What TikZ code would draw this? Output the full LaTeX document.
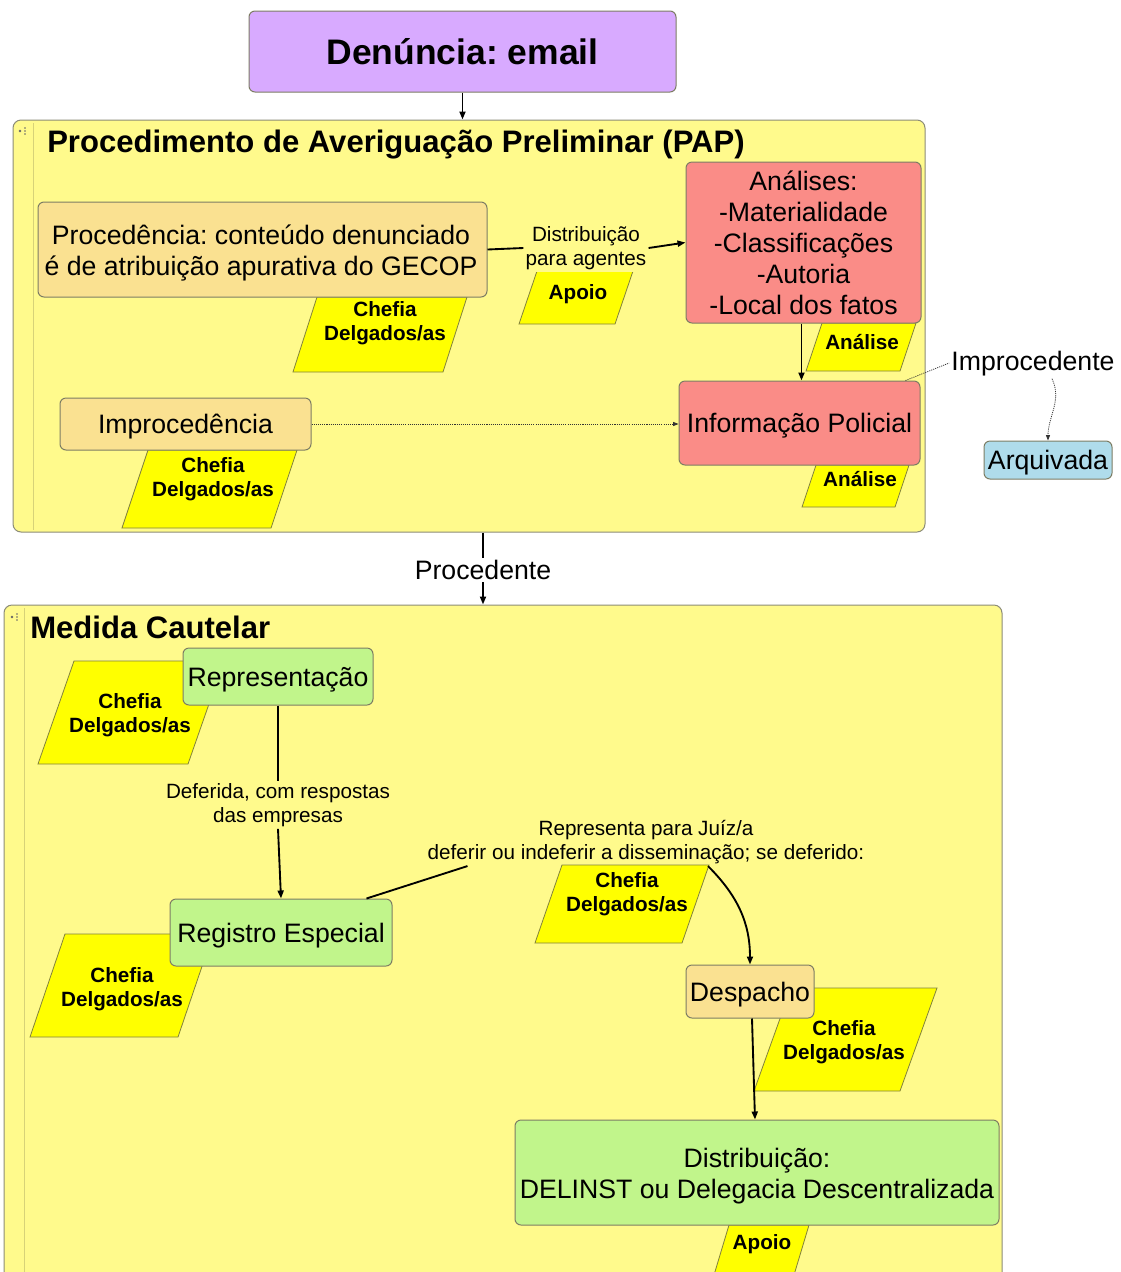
\documentclass[tikz,border=0pt]{standalone}
\usepackage{fontspec}
\setmainfont{Liberation Sans}
\usetikzlibrary{arrows.meta,calc}
\definecolor{contbg}{RGB}{255,250,140}
\definecolor{contline}{RGB}{140,140,120}
\definecolor{innerline}{RGB}{215,210,120}
\definecolor{purp}{RGB}{216,170,255}
\definecolor{tan}{RGB}{250,225,145}
\definecolor{salmon}{RGB}{250,140,135}
\definecolor{lgreen}{RGB}{193,245,139}
\definecolor{lblue}{RGB}{175,220,235}
\definecolor{pyel}{RGB}{255,255,0}
\definecolor{pline}{RGB}{130,130,60}
\definecolor{boxline}{RGB}{125,125,100}
\newcommand\fN{\fontsize{20}{23.3}\selectfont}
\newcommand\fS{\fontsize{15.5}{18}\selectfont}
\newcommand\fB{\bfseries\fontsize{15.5}{18}\selectfont}
\newcommand\fT{\bfseries\fontsize{23.3}{28}\selectfont}
\newcommand\fD{\bfseries\fontsize{26.6}{32}\selectfont}
\newcommand\pgram[5]{\draw[pgramst] (#1+#5,#3) -- (#2,#3) -- (#2-#5,#4) -- (#1,#4) -- cycle;}
\begin{document}
\frenchspacing
\begin{tikzpicture}[x=0.75pt,y=-0.75pt,
  wh/.style 2 args={minimum width=#1*0.75pt, minimum height=#2*0.75pt},
  cont/.style={draw=contline, fill=contbg, line width=0.75pt, rounded corners=6pt, inner sep=0pt},
  box/.style={draw=boxline, line width=0.75pt, rounded corners=4.5pt, inner sep=0pt, align=center, font=\fN},
  one/.style={text height=19pt, text depth=4.2pt},
  btxt/.style={font=\fN, align=center, inner sep=0pt},
  pgramst/.style={draw=pline, fill=pyel, line width=0.6pt},
  ptxt/.style={font=\fB, align=center, inner sep=0pt},
  lbl/.style={font=\fS, align=center, inner sep=1.5pt},
  nlbl/.style={font=\fN, align=center, inner sep=1.5pt},
  title/.style={font=\fT, inner sep=0pt},
  conn/.style={line width=1.4pt, black},
  arr/.style={conn, -{Triangle[length=6pt,width=4.5pt]}},
  dotc/.style={line width=0.6pt, dash pattern=on 0.8pt off 0.8pt, black!80},
  darr/.style={dotc, -{Triangle[length=4pt,width=3pt]}},
  icon/.style={fill=black!60, draw=none}
]
\useasboundingbox (0,0) rectangle (1121,1272);
\clip (0,0) rectangle (1121,1272);
\fill[white] (0,0) rectangle (1121,1272);

% containers
\node[cont, wh={912}{412}] (pap) at (469,326) {};
\node[cont, wh={998}{700}] (med) at (503,955) {};
\draw[innerline, line width=0.75pt] (33,123) -- (33,530);
\draw[innerline, line width=0.75pt] (24,608) -- (24,1272);
\fill[icon] (20,131) circle (1.3);
\foreach \yy in {128,131,134} \fill[icon] (25,\yy) circle (0.8);
\fill[icon] (12,617) circle (1.3);
\foreach \yy in {614,617,620} \fill[icon] (17,\yy) circle (0.8);
\node[title, anchor=west] (paptitle) at (47,145) {Procedimento de Averiguação Preliminar (PAP)};
\node[title, anchor=west] (medtitle) at (30,627) {Medida Cautelar};

% parallelograms
\pgram{293}{467}{297}{372}{24}
\pgram{519}{633}{271}{324}{18}
\pgram{806}{916}{323}{371}{16}
\pgram{802}{909}{465}{507}{14}
\pgram{122}{297}{450}{528}{26}
\pgram{38}{224}{661}{764}{36}
\pgram{30}{213}{934}{1037}{35}
\pgram{535}{709}{865}{943}{27}
\pgram{754}{937}{988}{1091}{37}
\pgram{709.5}{809}{1225}{1290}{19.5}

% boxes
\node[box, fill=purp, wh={427}{81}, font=\fD] (den) at (462.5,51.5) {Denúncia: email};
\node[box, fill=tan, wh={449}{95}] (proc) at (262.5,249.5) {};
\node[btxt] (proct) at (261,253) {Procedência: conteúdo denunciado\\é de atribuição apurativa do GECOP};
\node[box, fill=salmon, wh={235}{161}] (ana) at (803.5,242.5) {Análises:\\-Materialidade\\-Classificações\\-Autoria\\-Local dos fatos};
\node[box, one, fill=salmon, wh={241}{84}] (info) at (799.5,423) {Informação Policial};
\node[box, one, fill=tan, wh={251}{52}] (impr) at (185.5,424) {Improcedência};
\node[box, one, fill=lblue, wh={128}{38}] (arq) at (1048,460) {Arquivada};
\node[box, one, fill=lgreen, wh={190}{57}] (rep) at (278,676.5) {Representação};
\node[box, one, fill=lgreen, wh={222}{67}] (reg) at (281,932.5) {Registro Especial};
\node[box, one, fill=tan, wh={128}{53}] (desp) at (750,991.5) {Despacho};
\node[box, fill=lgreen, wh={484}{105}] (dist) at (757,1172.5) {};
\node[btxt] (distt) at (757,1176.5) {Distribuição:\\DELINST ou Delegacia Descentralizada};

% parallelogram texts
\node[ptxt] (c1) at (385,323) {Chefia\\Delgados/as};
\node[ptxt] (ap1) at (578,294) {Apoio};
\node[ptxt] (an1) at (862,342) {Análise};
\node[ptxt] (an2) at (860,479) {Análise};
\node[ptxt] (c2) at (213,479) {Chefia\\Delgados/as};
\node[ptxt] (c3) at (130,715) {Chefia\\Delgados/as};
\node[ptxt] (c4) at (122,989) {Chefia\\Delgados/as};
\node[ptxt] (c5) at (627,894) {Chefia\\Delgados/as};
\node[ptxt] (c6) at (844,1042) {Chefia\\Delgados/as};
\node[ptxt] (ap2) at (762,1244) {Apoio};

% labels
\node[lbl, fill=contbg] (distl) at (586,248) {Distribuição\\para agentes};
\node[nlbl] (improc) at (1033,364) {Improcedente};
\node[nlbl] (procd) at (483,570) {Procedente};
\node[lbl] (def) at (278,805) {Deferida, com respostas\\das empresas};
\node[lbl] (repj) at (646,842) {Representa para Juíz/a\\deferir ou indeferir a disseminação; se deferido:};

% connectors
\draw[arr] (den.south) -- (den.south |- pap.north);
\draw[conn] (proc.east) -- (distl.west);
\draw[arr] (distl.east) -- (ana.west);
\draw[arr] ($(ana.south)+(-2,0)$) -- ($(ana.south |- info.north)+(-2,0)$);
\draw[darr] (impr.east) -- (impr.east -| info.west);
\draw[dotc] ($(info.north east)+(-15,0)$) -- ($(improc.west)+(0,-1)$);
\draw[darr] ($(improc.south)+(19,0)$) to[out=-65,in=90] (arq.north);
\draw[conn] (procd |- pap.south) -- (procd.north);
\draw[arr] (procd.south) -- (procd |- med.north);
\draw[conn] (rep.south) -- (def.north);
\draw[arr] (def.south) -- (reg.north);
\draw[conn] ($(reg.north east)+(-26,0)$) -- ($(repj.south west)+(42,0)$);
\draw[arr] ($(repj.south)+(62,0)$) to[out=-45,in=90] (desp.north);
\draw[arr] ($(desp.south)+(2,0)$) -- ($(dist.north)+(-2,0)$);
\end{tikzpicture}
\end{document}
